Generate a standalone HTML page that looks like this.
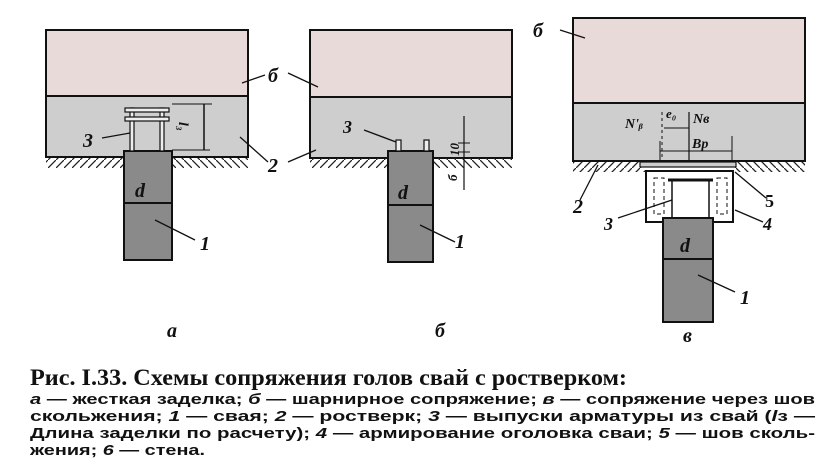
<!DOCTYPE html>
<html><head><meta charset="utf-8"><style>
body{margin:0;background:#fff;width:832px;height:476px;overflow:hidden;position:relative}
svg{position:absolute;left:0;top:0}
.t{font-family:"Liberation Serif",serif;font-style:italic;font-weight:bold;fill:#111}
.h{font-family:"Liberation Serif",serif;font-size:23px;fill:#111;font-weight:bold}
.b{font-family:"Liberation Sans",sans-serif;font-weight:bold;font-size:15px;fill:#111}
</style></head><body>
<svg width="832" height="476" viewBox="0 0 832 476">
<defs>
<pattern id="h" width="8" height="8" patternUnits="userSpaceOnUse"><path d="M0 8 L8 0" stroke="#222" stroke-width="1.3"/></pattern>
<pattern id="h2" width="8" height="8" patternUnits="userSpaceOnUse"><path d="M0 0 L8 8" stroke="#222" stroke-width="1.3"/></pattern>
</defs>
<g stroke="#111" stroke-width="2">
<!-- panel a -->
<rect x="46" y="30" width="202" height="66" fill="#e9dada"/>
<rect x="46" y="96" width="202" height="61" fill="#cecece"/>
<rect x="46" y="158" width="78" height="10" fill="url(#h)" stroke="none"/>
<rect x="172" y="158" width="76" height="10" fill="url(#h2)" stroke="none"/>
<rect x="124" y="151" width="48" height="109" fill="#8a8a8a"/>
<line x1="124" y1="203" x2="172" y2="203"/>
<rect x="130" y="108" width="4" height="43" fill="#eee" stroke-width="1.2"/>
<rect x="160" y="108" width="4" height="43" fill="#eee" stroke-width="1.2"/>
<rect x="125" y="108" width="44" height="4" fill="#eee" stroke-width="1.2"/>
<rect x="125" y="117" width="44" height="4" fill="#eee" stroke-width="1.2"/>
<line x1="172" y1="104" x2="212" y2="104" stroke-width="1"/>
<line x1="172" y1="150" x2="210" y2="150" stroke-width="1"/>
<line x1="204" y1="104" x2="204" y2="150" stroke-width="1.5"/>
<line x1="102" y1="138" x2="130" y2="133" stroke-width="1.3"/>
<line x1="155" y1="220" x2="195" y2="240" stroke-width="1.3"/>
<line x1="242" y1="83" x2="265" y2="75" stroke-width="1.3"/>
<line x1="240" y1="137" x2="268" y2="162" stroke-width="1.3"/>
<!-- panel b -->
<rect x="310" y="30" width="202" height="67" fill="#e9dada"/>
<rect x="310" y="97" width="202" height="61" fill="#cecece"/>
<rect x="310" y="158" width="78" height="10" fill="url(#h)" stroke="none"/>
<rect x="433" y="158" width="79" height="10" fill="url(#h2)" stroke="none"/>
<rect x="388" y="151" width="45" height="111" fill="#8a8a8a"/>
<line x1="388" y1="205" x2="433" y2="205"/>
<rect x="396" y="140" width="5" height="11" fill="#eee" stroke-width="1.2"/>
<rect x="424" y="140" width="5" height="11" fill="#eee" stroke-width="1.2"/>
<line x1="464" y1="116" x2="464" y2="190" stroke-width="1.2"/>
<line x1="458" y1="143" x2="470" y2="143" stroke-width="1"/>
<line x1="458" y1="152" x2="470" y2="152" stroke-width="1"/>
<line x1="364" y1="130" x2="396" y2="142" stroke-width="1.3"/>
<line x1="420" y1="225" x2="455" y2="242" stroke-width="1.3"/>
<line x1="288" y1="73" x2="318" y2="87" stroke-width="1.3"/>
<line x1="288" y1="162" x2="316" y2="150" stroke-width="1.3"/>
<!-- panel c -->
<rect x="573" y="18" width="232" height="85" fill="#e9dada"/>
<rect x="573" y="103" width="232" height="58" fill="#cecece"/>
<rect x="573" y="162" width="72" height="10" fill="url(#h)" stroke="none"/>
<rect x="735" y="162" width="70" height="10" fill="url(#h2)" stroke="none"/>
<rect x="640" y="162" width="96" height="5" fill="#ccc" stroke-width="1.2"/>
<rect x="646" y="171" width="87" height="51" fill="#fff"/>
<rect x="672" y="180" width="37" height="38" fill="#fff" stroke-width="1.5"/>
<line x1="668" y1="180" x2="713" y2="180" stroke-width="3"/>
<rect x="654" y="178" width="10" height="36" fill="none" stroke-width="1" stroke-dasharray="4 3"/>
<rect x="717" y="178" width="10" height="36" fill="none" stroke-width="1" stroke-dasharray="4 3"/>
<rect x="663" y="218" width="50" height="104" fill="#8a8a8a"/>
<line x1="663" y1="259" x2="713" y2="259"/>
<line x1="660" y1="141" x2="660" y2="160" stroke-width="1"/>
<line x1="732" y1="136" x2="732" y2="160" stroke-width="1"/>
<line x1="660" y1="151" x2="732" y2="151" stroke-width="1"/>
<line x1="689" y1="112" x2="689" y2="161" stroke-width="1.2"/>
<line x1="664" y1="128" x2="689" y2="128" stroke-width="1"/>
<line x1="662" y1="112" x2="662" y2="160" stroke-width="1" stroke-dasharray="3 3"/>
<line x1="560" y1="30" x2="585" y2="38" stroke-width="1.3"/>
<line x1="580" y1="200" x2="598" y2="165" stroke-width="1.3"/>
<line x1="735" y1="172" x2="766" y2="198" stroke-width="1.3"/>
<line x1="618" y1="218" x2="672" y2="200" stroke-width="1.3"/>
<line x1="735" y1="210" x2="763" y2="222" stroke-width="1.3"/>
<line x1="698" y1="275" x2="735" y2="292" stroke-width="1.3"/>
</g>
<g class="t">
<text x="135" y="197" font-size="20">d</text>
<text x="200" y="250" font-size="20">1</text>
<text x="268" y="82" font-size="20">б</text>
<text x="268" y="172" font-size="20">2</text>
<text x="83" y="147" font-size="20">3</text>
<text x="180" y="135" font-size="14" transform="rotate(90 186 128)">l₃</text>
<text x="398" y="199" font-size="20">d</text>
<text x="455" y="248" font-size="20">1</text>
<text x="343" y="133" font-size="18">3</text>
<text x="448" y="155" font-size="13" transform="rotate(-90 454 150)">10</text>
<text x="446" y="180" font-size="13" transform="rotate(-90 452 175)">б</text>
<text x="533" y="37" font-size="20">б</text>
<text x="625" y="128" font-size="14">N'ᵦ</text>
<text x="666" y="118" font-size="13">e₀</text>
<text x="693" y="123" font-size="14">Nв</text>
<text x="692" y="148" font-size="14">Вр</text>
<text x="573" y="213" font-size="20">2</text>
<text x="765" y="207" font-size="18" font-style="normal">5</text>
<text x="604" y="230" font-size="18">3</text>
<text x="763" y="230" font-size="18">4</text>
<text x="680" y="252" font-size="20">d</text>
<text x="740" y="304" font-size="20">1</text>
<text x="167" y="337" font-size="20">а</text>
<text x="435" y="337" font-size="20">б</text>
<text x="683" y="342" font-size="20">в</text>
</g>
<text class="h" x="30" y="385" textLength="597" lengthAdjust="spacingAndGlyphs">Рис. I.33. Схемы сопряжения голов свай с ростверком:</text>
<text class="b" x="30" y="404" textLength="785" lengthAdjust="spacingAndGlyphs"><tspan font-style="italic">а</tspan> — жесткая заделка; <tspan font-style="italic">б</tspan> — шарнирное сопряжение; <tspan font-style="italic">в</tspan> — сопряжение через шов</text>
<text class="b" x="30" y="421" textLength="785" lengthAdjust="spacingAndGlyphs">скольжения; <tspan font-style="italic">1</tspan> — свая; <tspan font-style="italic">2</tspan> — ростверк; <tspan font-style="italic">3</tspan> — выпуски арматуры из свай (<tspan font-style="italic">l</tspan>з —</text>
<text class="b" x="30" y="438" textLength="785" lengthAdjust="spacingAndGlyphs">Длина заделки по расчету); <tspan font-style="italic">4</tspan> — армирование оголовка сваи; <tspan font-style="italic">5</tspan> — шов сколь-</text>
<text class="b" x="30" y="455" textLength="175" lengthAdjust="spacingAndGlyphs">жения; <tspan font-style="italic">6</tspan> — стена.</text>
</svg>
</body></html>
